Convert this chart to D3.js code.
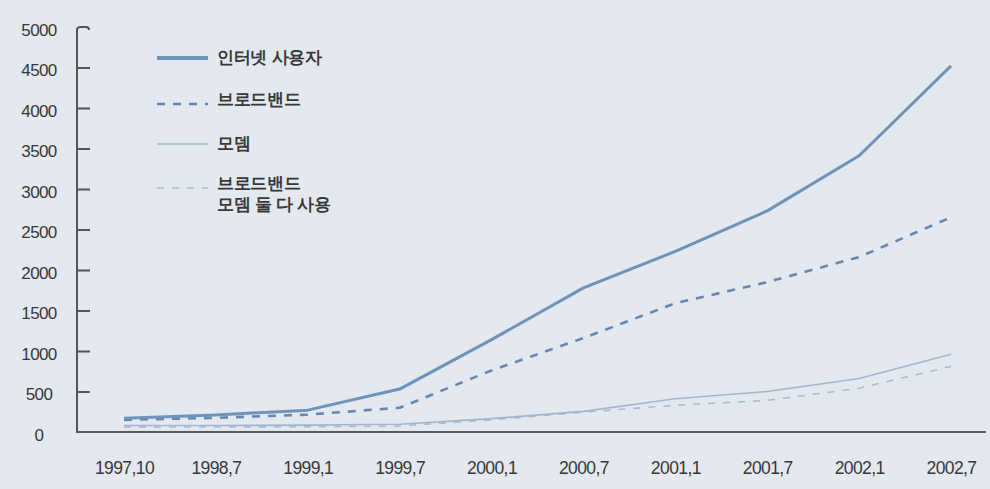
<!DOCTYPE html>
<html><head><meta charset="utf-8">
<script src="https://cdn.jsdelivr.net/npm/d3@7"></script>
<style>
html,body{margin:0;padding:0;background:#e4e8ef;}
svg{display:block;}
text{font-family:"Liberation Sans",Arial,sans-serif;fill:#383838;}
</style></head>
<body>
<svg id="c" width="990" height="489"></svg>
<script>
const categories = ["1997,10","1998,7","1999,1","1999,7","2000,1","2000,7","2001,1","2001,7","2002,1","2002,7"];
const internetUsers = [170, 210, 270, 530, 1140, 1780, 2230, 2730, 3410, 4520];
const broadband     = [150, 175, 215, 300, 760, 1160, 1590, 1850, 2160, 2650];
const modem         = [80, 80, 85, 95, 165, 255, 410, 500, 660, 960];
const both          = [60, 62, 65, 75, 150, 245, 330, 390, 540, 810];
const yTicks = [0,500,1000,1500,2000,2500,3000,3500,4000,4500,5000];
const seriesNames = ["인터넷 사용자", "브로드밴드", "모뎀", "브로드밴드\n모뎀 둘 다 사용"];

const svg = d3.select("#c");
const W = 990, H = 489;
svg.append("rect").attr("width",W).attr("height",H).attr("fill","#e4e8ef");

const x = d3.scalePoint().domain(categories).range([124, 951]);
const y = d3.scaleLinear().domain([0, 5000]).range([432, 27]);

const styles = [
  {color:"#6f94ba", width:3,   dash:null},
  {color:"#6688b0", width:2.6, dash:"8,8"},
  {color:"#a2b7cd", width:1.6, dash:null},
  {color:"#a9bcd0", width:1.6, dash:"7,8"}
];
const seriesData = [internetUsers, broadband, modem, both];

// y axis ticks
const yAxis = d3.axisLeft(y).tickValues(yTicks.filter(v=>v>0 && v<5000)).tickSize(-13).tickFormat("");
const gy = svg.append("g").attr("transform","translate(77,0)").call(yAxis);
gy.select(".domain").remove();
gy.selectAll(".tick line").attr("stroke","#555").attr("stroke-width",2);
// y labels (centred)
svg.append("g").selectAll("text").data(yTicks).join("text")
  .attr("x",39).attr("y",d=>y(d)+3).attr("dy","0.35em").attr("text-anchor","middle")
  .attr("font-size",17).attr("letter-spacing","-0.6px").text(d=>d);
// y axis line with hook
const yt = y(5000);
svg.append("path").attr("d",`M77,${y(0)}V${yt+3}Q77,${yt} 81,${yt}H86Q89,${yt} 89,${yt+3}`)
  .attr("fill","none").attr("stroke","#555").attr("stroke-width",2);

// x axis
const xAxis = d3.axisBottom(x).tickSize(0).tickPadding(30);
const gx = svg.append("g").attr("transform","translate(0,432)").call(xAxis);
gx.select(".domain").remove();
gx.selectAll(".tick text").attr("font-size",17.5).attr("letter-spacing","-0.6px").attr("fill","#383838").attr("font-family","'Liberation Sans',Arial,sans-serif");
svg.append("line").attr("x1",76).attr("x2",986).attr("y1",432).attr("y2",432).attr("stroke","#5a5a5a").attr("stroke-width",2.2);

// lines
const line = d3.line().x((d,i)=>x(categories[i])).y(d=>y(d));
[3,2,1,0].forEach(k=>{
  const s = styles[k];
  svg.append("path").datum(seriesData[k]).attr("d",line).attr("fill","none")
    .attr("stroke",s.color).attr("stroke-width",s.width)
    .attr("stroke-dasharray",s.dash).attr("stroke-linejoin","round");
});

// legend
const legY = [58, 104, 144, 188];
const legTextY = [57, 99, 143, [183, 204]];
seriesNames.forEach((name,k)=>{
  const s = styles[k];
  svg.append("line").attr("x1",157).attr("x2",208).attr("y1",legY[k]).attr("y2",legY[k])
    .attr("stroke",s.color).attr("stroke-width",k===0?3.8:s.width).attr("stroke-dasharray",s.dash);
  const lines = name.split("\n");
  const ty = Array.isArray(legTextY[k]) ? legTextY[k] : [legTextY[k]];
  lines.forEach((t,j)=>{
    svg.append("text").attr("x",217).attr("y",ty[j]).attr("dy","0.35em")
      .attr("font-size",17).attr("font-weight","bold").attr("fill","#474747")
      .attr("font-family","'Noto Sans CJK KR',sans-serif").attr("letter-spacing","-0.3px").text(t);
  });
});
</script>
</body></html>
